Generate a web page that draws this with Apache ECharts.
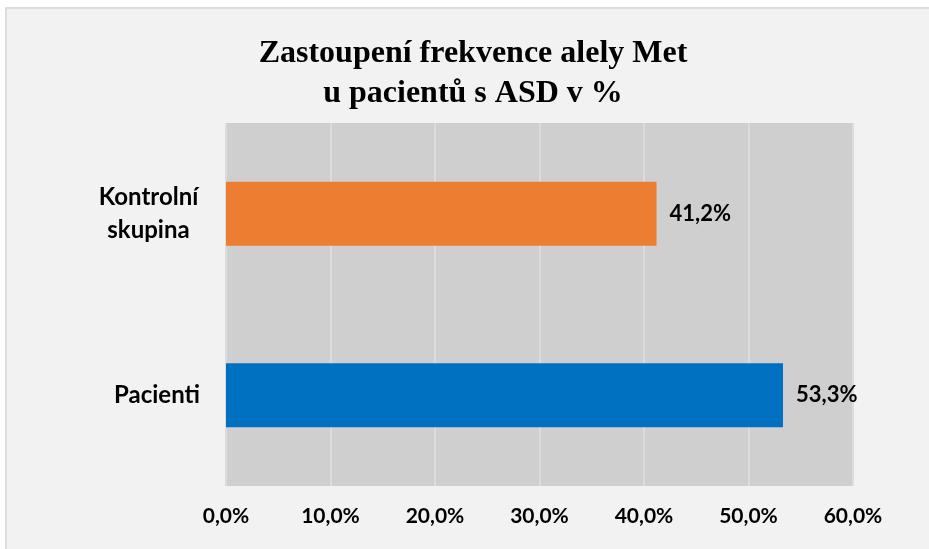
<!DOCTYPE html>
<html>
<head>
<meta charset="utf-8">
<script src="https://cdn.jsdelivr.net/npm/echarts@6/dist/echarts.min.js"></script>
<style>
  html, body { margin: 0; padding: 0; background: #fff; }
  #frame { position: absolute; left: 5px; top: 7px; width: 924px; height: 542px;
           background: #f2f2f2; border-left: 2px solid #dcdcdc; border-top: 2px solid #dcdcdc; }
  #chart { position: absolute; left: 0; top: 0; width: 929px; height: 549px; }
</style>
</head>
<body>
<div id="frame"></div>
<div id="chart"></div>
<script>
// kategorie (odspodu nahoru) a hodnoty v %
var categories = ['Pacienti', 'Kontrolní skupina'];
var values = [53.3, 41.2];
var tickLabels = ['0,0%', '10,0%', '20,0%', '30,0%', '40,0%', '50,0%', '60,0%'];

var barColors = ['#0070c0', '#ed7d31'];
var labelFont = { fontFamily: 'Lato', fontWeight: 'bold', fontSize: 21, color: '#000' };
var valueFont = { fontFamily: 'Lato', fontWeight: 'bold', fontSize: 22, color: '#000' };
var catFont = { fontFamily: 'Lato', fontWeight: 'bold', fontSize: 24, color: '#000' };

var chart = echarts.init(document.getElementById('chart'));

chart.setOption({
    backgroundColor: 'transparent',
    title: {
        text: 'Zastoupení frekvence alely Met\nu pacientů s ASD v %',
        left: 468,
        textAlign: 'center',
        top: 29,
        textStyle: {
            fontFamily: 'Liberation Serif',
            fontWeight: 'bold',
            fontSize: 32,
            lineHeight: 40,
            color: '#000'
        }
    },
    grid: {
        left: 226, right: 76, top: 123, bottom: 63,
        show: true, backgroundColor: '#d0cfd0', borderWidth: 0
    },
    xAxis: {
        type: 'value',
        min: 0, max: 60, interval: 10,
        axisLine: { show: false },
        axisTick: { show: false },
        splitLine: { show: true, lineStyle: { color: '#dddcdd', width: 2 } },
        axisLabel: Object.assign({
            margin: 20,
            formatter: function (v) { return tickLabels[Math.round(v / 10)]; }
        }, labelFont)
    },
    yAxis: {
        type: 'category',
        data: categories,
        axisLine: { show: false },
        axisTick: { show: false },
        axisLabel: Object.assign({
            margin: 26,
            lineHeight: 33,
            formatter: function (v) {
                if (v.indexOf(' ') > 0) {
                    return v.split(' ').map(function (s) { return '{c|' + s + '}'; }).join('\n');
                }
                return v;
            },
            rich: {
                c: Object.assign({ width: 103, align: 'center', lineHeight: 33 }, catFont)
            }
        }, catFont)
    },
    series: [{
        type: 'bar',
        barWidth: 64,
        data: values.map(function (v, i) {
            return { value: v, itemStyle: { color: barColors[i] } };
        }),
        label: Object.assign({
            show: true,
            position: 'right',
            distance: 13,
            formatter: function (p) { return p.value.toFixed(1).replace('.', ',') + '%'; }
        }, valueFont),
        animation: false
    }],
    animation: false
});
</script>
</body>
</html>
